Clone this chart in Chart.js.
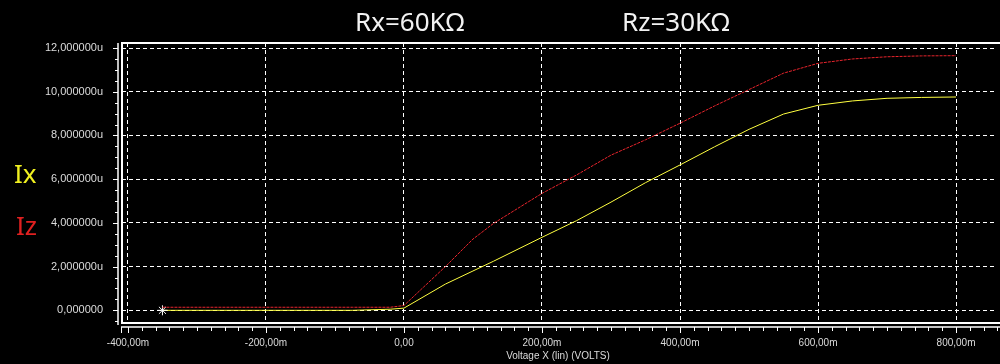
<!DOCTYPE html>
<html>
<head>
<meta charset="utf-8">
<script src="https://cdn.jsdelivr.net/npm/chart.js@4"></script>
<style>
  html, body { margin: 0; padding: 0; background: #000; }
  #wrap { position: relative; width: 1000px; height: 364px; }
</style>
</head>
<body>
<div id="wrap"><canvas id="curve"></canvas></div>
<script>
// sweep points (mV) and the two currents (uA)
const voltages = [-350, -75, -20, 0, 60, 100, 130, 200, 250, 300, 350, 400, 450, 500, 550, 600, 650, 700, 750, 800];
const ixValues = [0, 0, 0.05, 0.1, 1.2, 1.8, 2.25, 3.34, 4.1, 4.95, 5.84, 6.65, 7.48, 8.28, 8.98, 9.38, 9.58, 9.7, 9.74, 9.76];
const izValues = [0.14, 0.14, 0.14, 0.22, 2.0, 3.26, 3.98, 5.35, 6.19, 7.1, 7.8, 8.56, 9.35, 10.1, 10.85, 11.3, 11.5, 11.6, 11.64, 11.65];
const xTicks = [-400, -200, 0, 200, 400, 600, 800];
const yTicks = [0, 2, 4, 6, 8, 10, 12];

const toPoints = vals => vals.map((v, i) => ({ x: voltages[i], y: v }));

function fmtX(v) {
  if (v === 0) return "0,00";
  return v.toFixed(2).replace(".", ",") + "m";
}
function fmtY(v) {
  if (v === 0) return "0,000000";
  return v.toFixed(6).replace(".", ",") + "u";
}

// frame, outer axis lines with minor ticks, and the side/top labels
const scopeDecor = {
  id: "scopeDecor",
  afterDraw(chart) {
    const { ctx, chartArea: a, scales: { x, y } } = chart;
    ctx.save();
    ctx.strokeStyle = "#fff";
    ctx.lineWidth = 2;
    ctx.beginPath();
    ctx.moveTo(1000, a.top); ctx.lineTo(a.left, a.top); ctx.lineTo(a.left, a.bottom); ctx.lineTo(1000, a.bottom);
    ctx.stroke();

    // outer axis lines + ticks
    ctx.lineWidth = 1.5;
    ctx.beginPath();
    ctx.moveTo(a.left - 4, a.top); ctx.lineTo(a.left - 4, a.bottom + 2);
    ctx.moveTo(a.left - 1, a.bottom + 4); ctx.lineTo(1000, a.bottom + 4);
    ctx.stroke();
    ctx.lineWidth = 1;
    ctx.beginPath();
    for (let v = -0.5; v <= 12.2; v += 0.5) {
      const py = Math.round(y.getPixelForValue(v)) + 0.5;
      const len = (Math.abs(v % 2) < 1e-6) ? 5 : 3;
      ctx.moveTo(a.left - 4 - len, py); ctx.lineTo(a.left - 4, py);
    }
    for (let v = -400; v <= 860; v += 20) {
      const px = Math.round(x.getPixelForValue(v)) + 0.5;
      const len = (v % 200 === 0) ? 6 : 4;
      ctx.moveTo(px, a.bottom + 4); ctx.lineTo(px, a.bottom + 4 + len);
    }
    ctx.moveTo(a.left - 0.5, a.bottom + 4); ctx.lineTo(a.left - 0.5, a.bottom + 10);
    ctx.stroke();

    ctx.textBaseline = "alphabetic";
    ctx.font = "26px 'Noto Sans'";
    ctx.fillStyle = "#f2f2f2";
    ctx.fillText("Rx=60KΩ", 355, 31);
    ctx.fillText("Rz=30KΩ", 622, 31);
    ctx.fillStyle = "#f0f020";
    ctx.fillText("Ix", 14, 183);
    ctx.fillStyle = "#e02020";
    ctx.fillText("Iz", 16, 235);
    ctx.restore();
  }
};

new Chart(document.getElementById("curve"), {
  type: "line",
  data: {
    datasets: [
      {
        label: "Iz",
        data: toPoints(izValues),
        borderColor: "#e8242c",
        borderWidth: 1,
        borderDash: [3, 1],
        pointRadius: 0,
        tension: 0
      },
      {
        label: "Ix",
        data: toPoints(ixValues),
        borderColor: "#ffff40",
        borderWidth: 1,
        pointRadius: ctx => ctx.dataIndex === 0 ? 5 : 0,
        pointStyle: "star",
        pointBorderColor: "#fff",
        pointBorderWidth: 1,
        tension: 0
      }
    ]
  },
  options: {
    responsive: true,
    maintainAspectRatio: false,
    animation: false,
    layout: { padding: { top: 43, left: 0, right: 0, bottom: 0 } },
    plugins: { legend: { display: false }, tooltip: { enabled: false } },
    scales: {
      x: {
        type: "linear",
        min: -408.6,
        max: 855,
        afterBuildTicks: s => { s.ticks = xTicks.map(v => ({ value: v })); },
        afterFit: s => { s.height = 41; },
        grid: { color: "#fff", lineWidth: 1, drawTicks: false },
        border: { display: false, dash: [4, 3] },
        ticks: {
          color: "#dcdcdc",
          font: { family: "'Liberation Sans'", size: 10 },
          padding: 14,
          maxRotation: 0,
          autoSkip: false,
          callback: v => fmtX(v)
        },
        title: {
          display: true,
          text: "Voltage X (lin) (VOLTS)",
          color: "#dcdcdc",
          font: { family: "'Liberation Sans'", size: 10 },
          padding: { top: 0, bottom: 2 }
        }
      },
      y: {
        min: -0.58,
        max: 12.23,
        afterBuildTicks: s => { s.ticks = yTicks.map(v => ({ value: v })); },
        afterFit: s => { s.width = 122; },
        grid: { color: "#fff", lineWidth: 1, drawTicks: false },
        border: { display: false, dash: [4, 3] },
        ticks: {
          color: "#dcdcdc",
          font: { family: "'Liberation Sans'", size: 11 },
          padding: 19,
          callback: v => fmtY(v)
        }
      }
    }
  },
  plugins: [scopeDecor]
});
</script>
</body>
</html>
